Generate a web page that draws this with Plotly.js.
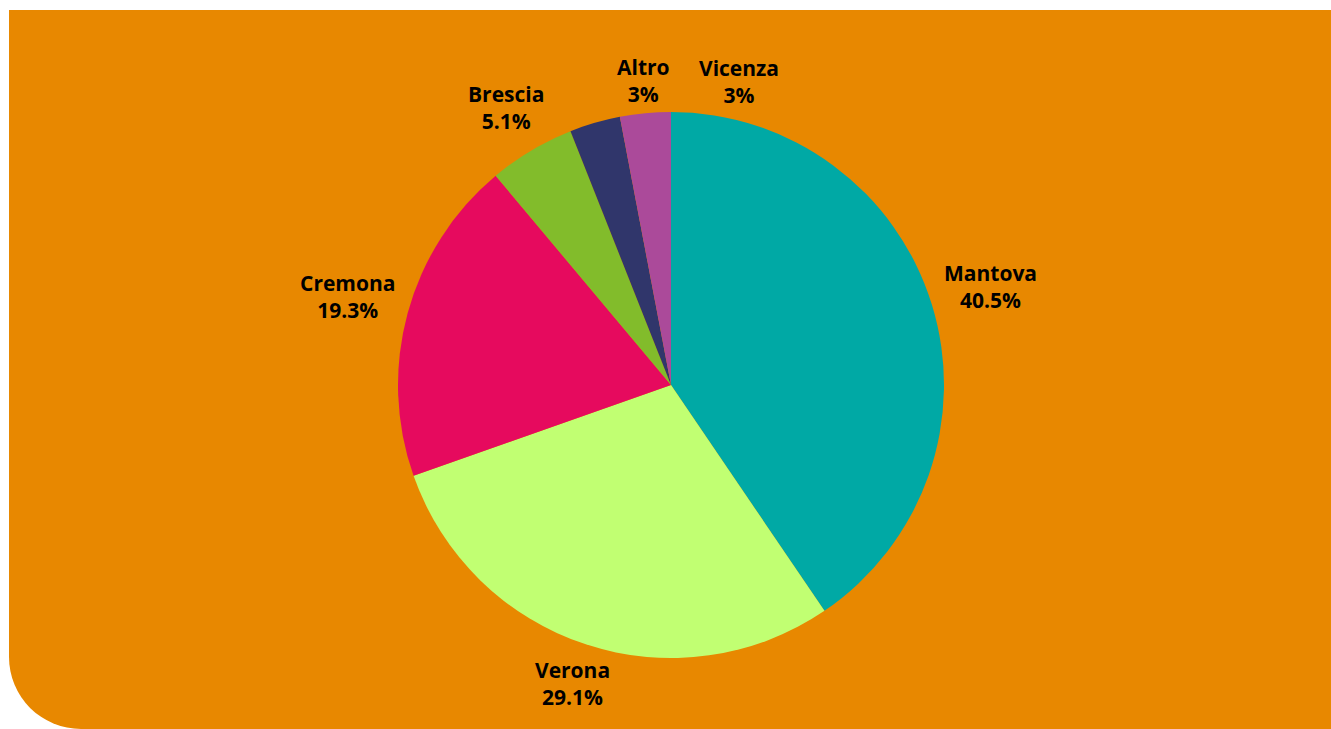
<!DOCTYPE html>
<html>
<head>
<meta charset="utf-8">
<script src="https://cdn.plot.ly/plotly-3.0.1.min.js"></script>
<style>
  html, body { margin: 0; padding: 0; background: #fff; }
  #chart {
    position: absolute; left: 9px; top: 10px;
    width: 1322px; height: 719px;
    background: #E88800;
    border-bottom-left-radius: 72px;
    overflow: hidden;
  }
</style>
</head>
<body>
<div id="chart"></div>
<script>
/* Provenienza (quote %) */
const provinces = ['Mantova', 'Verona', 'Cremona', 'Brescia', 'Altro', 'Vicenza'];
const shares    = [40.5, 29.1, 19.3, 5.1, 3, 3];
const colors    = ['#00A9A5', '#C1FF72', '#E60A5E', '#82BC2B', '#30366B', '#AB4A9A'];

/* small label nudges (deg clockwise, px outward) to keep the top labels apart */
const labelNudge = { Brescia: [0, 5], Altro: [11, -7], Vicenza: [18, -3] };

const W = 1322, H = 719;
const M = { l: 80, r: 78, t: 102, b: 71 };
const FONT = { family: '"Open Sans", sans-serif', size: 21, color: '#000', weight: 700 };

/* geometry of the pie inside the plot area (same rule Plotly uses) */
const pw = W - M.l - M.r, ph = H - M.t - M.b;
const R  = Math.min(pw, ph) / 2;
const cx = M.l + pw / 2, cy = M.t + ph / 2;

const ctx = document.createElement('canvas').getContext('2d');
ctx.font = `700 ${FONT.size}px "Open Sans"`;

const total = shares.reduce((s, v) => s + v, 0);
const OFF = 13, HALF_H = 27;
let acc = 0;
const annotations = provinces.map((name, i) => {
  const pct = shares[i] / total * 100;
  const [dDeg, dR] = labelNudge[name] || [0, 0];
  const midDeg = (acc + shares[i] / 2) / total * 360 + dDeg;
  acc += shares[i];
  const pctTxt = (Math.round(pct * 10) / 10) + '%';
  const halfW = Math.max(ctx.measureText(name).width, ctx.measureText(pctTxt).width) / 2;
  const a = midDeg * Math.PI / 180;
  const s = Math.abs(Math.sin(a)), c = Math.abs(Math.cos(a));
  const dBox = Math.min(s > 1e-6 ? halfW / s : 1e9, c > 1e-6 ? HALF_H / c : 1e9);
  const r = R + OFF + dBox + dR;
  const px = cx + r * Math.sin(a), py = cy - r * Math.cos(a);
  return {
    xref: 'paper', yref: 'paper',
    x: (px - M.l) / pw, y: 1 - (py - M.t) / ph,
    xanchor: 'center', yanchor: 'middle',
    text: name + '<br>' + pctTxt,
    showarrow: false,
    font: FONT
  };
});

const pie = {
  type: 'pie',
  labels: provinces,
  values: shares,
  sort: false,
  direction: 'clockwise',
  rotation: 0,
  marker: { colors: colors, line: { width: 0 } },
  textinfo: 'none',
  hoverinfo: 'label+percent'
};

const layout = {
  width: W, height: H,
  paper_bgcolor: 'rgba(0,0,0,0)',
  plot_bgcolor: 'rgba(0,0,0,0)',
  margin: M,
  showlegend: false,
  annotations: annotations
};

Plotly.newPlot('chart', [pie], layout, { displayModeBar: false, staticPlot: true });
</script>
</body>
</html>
